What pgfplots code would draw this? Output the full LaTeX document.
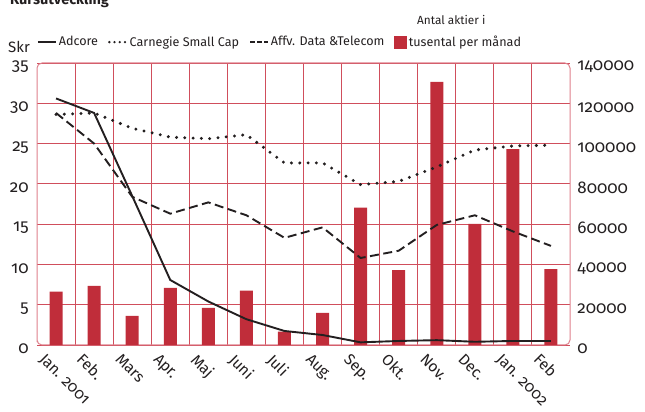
\documentclass[border=0pt]{standalone}
\usepackage{fontspec}
\setmainfont{Fira Sans}[Numbers=OldStyle]
\usepackage{pgfplots}
\pgfplotsset{compat=1.18}
\definecolor{barred}{RGB}{192,45,58}
\definecolor{gridred}{RGB}{208,78,92}
\definecolor{framered}{RGB}{222,128,140}
\definecolor{ink}{RGB}{35,31,32}
\begin{document}
\fontsize{12.6}{15}\selectfont
\begin{tikzpicture}
\useasboundingbox (0,0) rectangle (645pt,412pt);
\node[anchor=base west,font=\bfseries\fontsize{14.5}{16}\selectfont,text=ink,inner sep=0pt] at (10pt,407pt) {Kursutveckling};
\node[anchor=base west,text=ink,inner sep=0pt,font=\fontsize{11.8}{14}\selectfont] at (417pt,387pt) {Antal aktier i};
\node[anchor=base west,text=ink,inner sep=0pt,font=\fontsize{15}{17}\selectfont] at (8pt,359pt) {Skr};
% bars axis (right)
\begin{axis}[at={(37pt,67pt)}, anchor=south west, scale only axis,
  width=533pt, height=282pt,
  xmin=-0.5, xmax=13.5, ymin=0, ymax=140000,
  axis lines=box,
  axis line style={draw=framered, line width=1pt, rounded corners=5pt},
  xtick={0,...,13},
  xticklabels={Jan. 2001,Feb.,Mars,Apr.,Maj,Juni,Juli,Aug.,Sep.,Okt.,Nov.,Dec.,Jan. 2002,Feb},
  xticklabel style={rotate=-45, anchor=north west, xshift=-6pt, yshift=-8pt, text=ink, font=\fontsize{15.5}{17}\selectfont},
  minor xtick={0.5,1.5,...,12.5},
  xminorgrids, ymajorgrids,
  minor grid style={draw=gridred, line width=0.9pt},
  major grid style={draw=gridred, line width=0.9pt},
  major tick length=0pt, minor tick length=0pt,
  ytick={0,20000,...,140000},
  yticklabel pos=right,
  scaled y ticks=false,
  yticklabel style={/pgf/number format/fixed, /pgf/number format/1000 sep={}, /pgf/number format/assume math mode=true, anchor=west, xshift=3pt, yshift=-4pt, text=ink, font=\fontsize{17}{19}\selectfont},
  ytick pos=right,
  xtick pos=bottom,
  axis on top=false,
]
\addplot[ybar, bar width=13pt, fill=barred, draw=none] coordinates {
(0,26500) (1,29300) (2,14400) (3,28300) (4,18400) (5,27000) (6,6600)
(7,15900) (8,68200) (9,37200) (10,130600) (11,60100) (12,97300) (13,37700)};
\end{axis}
% lines axis (left)
\begin{axis}[at={(37pt,67pt)}, anchor=south west, scale only axis,
  width=533pt, height=282pt,
  xmin=-0.5, xmax=13.5, ymin=0, ymax=35,
  axis x line=none,
  axis y line*=left,
  y axis line style={draw=none},
  ytick={0,5,...,35},
  major tick length=0pt,
  yticklabel style={/pgf/number format/assume math mode=true, anchor=east, xshift=-4pt, yshift=-4pt, text=ink, font=\fontsize{17}{19}\selectfont},
  legend columns=4,
  legend style={draw=none, fill=none, at={(0.0,1.074)}, anchor=west, inner sep=0pt,
    /tikz/every even column/.append style={column sep=8pt},
    nodes={inner sep=2pt, text=ink}},
]
\addplot[ink, line width=1.9pt, legend image code/.code={\draw[ink,line width=1.6pt] (0pt,0pt) -- (18pt,0pt);}] coordinates {
(0,30.6) (1,28.8) (2,18.5) (3,8.07) (4,5.4) (5,3.2) (6,1.74) (7,1.24)
(8,0.33) (9,0.5) (10,0.6) (11,0.4) (12,0.5) (13,0.5)};
\addlegendentry{Adcore}
\addplot[ink, line width=3.3pt, line cap=round, dash pattern=on 0pt off 8.3pt, legend image code/.code={\draw[ink,line width=2.6pt,line cap=round,dash pattern=on 0pt off 5.2pt] (1pt,0pt) -- (18pt,0pt);}] coordinates {
(0,28.6) (1,28.8) (2,26.9) (3,25.8) (4,25.6) (5,26.1) (6,22.6) (7,22.6)
(8,19.9) (9,20.3) (10,22.1) (11,24.2) (12,24.7) (13,24.8)};
\addlegendentry{Carnegie Small Cap}
\addplot[ink, line width=1.9pt, dash pattern=on 9pt off 4.5pt, legend image code/.code={\draw[ink,line width=1.6pt,dash pattern=on 4.5pt off 2.5pt] (0pt,0pt) -- (18pt,0pt);}] coordinates {
(0,28.8) (1,25.0) (2,18.4) (3,16.3) (4,17.7) (5,16.1) (6,13.3) (7,14.6)
(8,10.8) (9,11.7) (10,14.9) (11,16.1) (12,14.1) (13,12.3)};
\addlegendentry{Affv. Data \&Telecom}
\addlegendimage{legend image code/.code={\fill[barred] (0pt,-6pt) rectangle (12pt,6pt);}}
\addlegendentry{tusental per månad}
\end{axis}
\end{tikzpicture}
\end{document}
